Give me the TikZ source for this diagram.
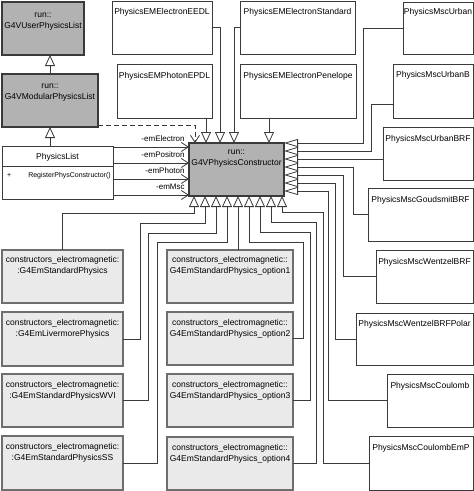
\documentclass[tikz,border=0pt]{standalone}
\usepackage{fontspec}
\setmainfont{Liberation Sans}
\usetikzlibrary{arrows.meta,calc}
\definecolor{clsdark}{RGB}{178,178,178}
\definecolor{clslight}{RGB}{234,234,234}
\definecolor{edgedark}{RGB}{58,58,58}
\definecolor{edgelight}{RGB}{110,110,110}
\tikzset{
  cls/.style={rectangle,anchor=north west,inner sep=0pt,outer sep=0pt,line width=1pt},
  darkcls/.style={cls,fill=clsdark,draw=edgedark,line width=1.4pt},
  whitecls/.style={cls,fill=white,draw=edgedark},
  lightcls/.style={cls,fill=clslight,draw=edgelight,line width=1.2pt},
  clstext/.style={anchor=north,inner sep=0pt,align=center,font=\fontsize{8.5}{10.5}\selectfont},
  rolelabel/.style={anchor=base east,inner sep=0pt,font=\fontsize{8}{9.6}\selectfont},
  link/.style={draw=edgedark,line width=0.8pt},
  inh/.style={link,-{Triangle[open,length=11pt,width=10pt]}},
  inhside/.style={link,-{Triangle[open,length=14pt,width=8pt]}},
  assoc/.style={link,-{Straight Barb[length=7pt,width=9pt]}},
  usedby/.style={assoc,dash pattern=on 5pt off 3pt},
}
\begin{document}
\begin{tikzpicture}[x=1pt,y=-1pt]
\path[use as bounding box,fill=white] (0,0) rectangle (474,491);
% base classes
\node[darkcls,minimum width=82pt,minimum height=53pt] (user) at (2,2) {};
\node[clstext] (userTxt) at ($(user.north)+(0,8)$) {\strut run::\\G4VUserPhysicsList};
\node[darkcls,minimum width=96pt,minimum height=53pt] (modular) at (2,74) {};
\node[clstext] (modularTxt) at ($(modular.north)+(0,7)$) {\strut run::\\G4VModularPhysicsList};
\node[whitecls,minimum width=111pt,minimum height=53pt] (plist) at (2,146) {};
\node[clstext] (plistTxt) at ($(plist.north)+(0,6)$) {\strut PhysicsList};
\draw[edgedark,line width=1pt] ($(plist.north west)+(0,20)$) -- ($(plist.north east)+(0,20)$);
\node[anchor=base west,inner sep=0pt,font=\fontsize{7}{8.4}\selectfont] (plistOp) at ($(plist.north west)+(5,31)$) {+\hspace{17pt}RegisterPhysConstructor()};
\node[darkcls,minimum width=95pt,minimum height=53pt] (pc) at (189,143) {};
\node[clstext] (pcTxt) at ($(pc.north)+(0,4)$) {\strut run::\\G4VPhysicsConstructor};
% attachment points on the constructor
\coordinate (pcT0) at ($(pc.north west)+(6,0)$);
\coordinate (pcT1) at ($(pc.north west)+(17,0)$);
\coordinate (pcT2) at ($(pc.north west)+(31,0)$);
\coordinate (pcT3) at ($(pc.north west)+(45,0)$);
\coordinate (pcT4) at ($(pc.north west)+(80,0)$);
\coordinate (pcL1) at ($(pc.north west)+(0,4)$);
\coordinate (pcL2) at ($(pc.north west)+(0,20)$);
\coordinate (pcL3) at ($(pc.north west)+(0,36)$);
\coordinate (pcL4) at ($(pc.north west)+(0,52)$);
\coordinate (pcR1) at ($(pc.north east)+(0,0)$);
\coordinate (pcR2) at ($(pc.north east)+(0,8)$);
\coordinate (pcR3) at ($(pc.north east)+(0,16)$);
\coordinate (pcR4) at ($(pc.north east)+(0,24)$);
\coordinate (pcR5) at ($(pc.north east)+(0,32)$);
\coordinate (pcR6) at ($(pc.north east)+(0,40)$);
\coordinate (pcR7) at ($(pc.north east)+(0,48)$);
\coordinate (pcB1) at ($(pc.south west)+(5,0)$);
\coordinate (pcB2) at ($(pc.south west)+(16,0)$);
\coordinate (pcB3) at ($(pc.south west)+(27,0)$);
\coordinate (pcB4) at ($(pc.south west)+(38,0)$);
\coordinate (pcB5) at ($(pc.south west)+(49,0)$);
\coordinate (pcB6) at ($(pc.south west)+(60,0)$);
\coordinate (pcB7) at ($(pc.south west)+(71,0)$);
\coordinate (pcB8) at ($(pc.south west)+(82,0)$);
\coordinate (pcB9) at ($(pc.south west)+(93,0)$);
% EM constructors on top
\node[whitecls,minimum width=100pt,minimum height=53pt] (eedl) at (112,1) {};
\node[clstext] (eedlTxt) at ($(eedl.north)+(0,6)$) {\strut PhysicsEMElectronEEDL};
\node[whitecls,minimum width=115pt,minimum height=53pt] (estd) at (240,1) {};
\node[clstext] (estdTxt) at ($(estd.north)+(0,6)$) {\strut PhysicsEMElectronStandard};
\node[whitecls,minimum width=95pt,minimum height=54pt] (epdl) at (117,64) {};
\node[clstext] (epdlTxt) at ($(epdl.north)+(0,7)$) {\strut PhysicsEMPhotonEPDL};
\node[whitecls,minimum width=116pt,minimum height=54pt] (epen) at (240,64) {};
\node[clstext] (epenTxt) at ($(epen.north)+(0,7)$) {\strut PhysicsEMElectronPenelope};
% Msc constructors on the right
\node[whitecls,minimum width=70pt,minimum height=52pt] (urban) at (403,2) {};
\node[clstext] (urbanTxt) at ($(urban.north)+(0,5)$) {\strut PhysicsMscUrban};
\node[whitecls,minimum width=80pt,minimum height=54pt] (urbanb) at (393,64) {};
\node[clstext] (urbanbTxt) at ($(urbanb.north)+(0,6)$) {\strut PhysicsMscUrbanB};
\node[whitecls,minimum width=90pt,minimum height=53pt] (urbanbrf) at (383,127) {};
\node[clstext] (urbanbrfTxt) at ($(urbanbrf.north)+(0,7)$) {\strut PhysicsMscUrbanBRF};
\node[whitecls,minimum width=105pt,minimum height=53pt] (gouds) at (368,188) {};
\node[clstext] (goudsTxt) at ($(gouds.north)+(0,7)$) {\strut PhysicsMscGoudsmitBRF};
\node[whitecls,minimum width=97pt,minimum height=53pt] (wentzel) at (376,250) {};
\node[clstext] (wentzelTxt) at ($(wentzel.north)+(0,7)$) {\strut PhysicsMscWentzelBRF};
\node[whitecls,minimum width=117pt,minimum height=52pt] (polar) at (356,313) {};
\node[clstext] (polarTxt) at ($(polar.north)+(0,6)$) {\strut PhysicsMscWentzelBRFPolar};
\node[whitecls,minimum width=86pt,minimum height=53pt] (coulomb) at (387,374) {};
\node[clstext] (coulombTxt) at ($(coulomb.north)+(0,7)$) {\strut PhysicsMscCoulomb};
\node[whitecls,minimum width=104pt,minimum height=54pt] (coulombemp) at (369,436) {};
\node[clstext] (coulombempTxt) at ($(coulombemp.north)+(0,7)$) {\strut PhysicsMscCoulombEmP};
% G4Em physics below
\node[lightcls,minimum width=121pt,minimum height=53pt] (stdphys) at (2,250) {};
\node[clstext] (stdphysTxt) at ($(stdphys.north)+(0,5)$) {\strut constructors\_electromagnetic:\\:G4EmStandardPhysics};
\node[lightcls,minimum width=121pt,minimum height=54pt] (liv) at (2,312) {};
\node[clstext] (livTxt) at ($(liv.north)+(0,6)$) {\strut constructors\_electromagnetic:\\:G4EmLivermorePhysics};
\node[lightcls,minimum width=121pt,minimum height=53pt] (wvi) at (2,374) {};
\node[clstext] (wviTxt) at ($(wvi.north)+(0,6)$) {\strut constructors\_electromagnetic:\\:G4EmStandardPhysicsWVI};
\node[lightcls,minimum width=121pt,minimum height=54pt] (ss) at (2,436) {};
\node[clstext] (ssTxt) at ($(ss.north)+(0,6)$) {\strut constructors\_electromagnetic:\\:G4EmStandardPhysicsSS};
\node[lightcls,minimum width=126pt,minimum height=53pt] (opt1) at (167,250) {};
\node[clstext] (opt1Txt) at ($(opt1.north)+(0,5)$) {\strut constructors\_electromagnetic::\\G4EmStandardPhysics\_option1};
\node[lightcls,minimum width=126pt,minimum height=53pt] (opt2) at (167,312) {};
\node[clstext] (opt2Txt) at ($(opt2.north)+(0,6)$) {\strut constructors\_electromagnetic::\\G4EmStandardPhysics\_option2};
\node[lightcls,minimum width=126pt,minimum height=53pt] (opt3) at (167,374) {};
\node[clstext] (opt3Txt) at ($(opt3.north)+(0,6)$) {\strut constructors\_electromagnetic::\\G4EmStandardPhysics\_option3};
\node[lightcls,minimum width=126pt,minimum height=53pt] (opt4) at (167,437) {};
\node[clstext] (opt4Txt) at ($(opt4.north)+(0,6)$) {\strut constructors\_electromagnetic::\\G4EmStandardPhysics\_option4};
% generalisation of the lists
\draw[inh] (modular.north) -- (modular.north |- user.south);
\draw[inh] (plist.north -| modular.north) -- (modular.south);
\draw[usedby] ($(modular.south east)+(0,-2)$) -| (pcT0);
% roles of the list
\draw[assoc] (plist.east |- pcL1) -- (pcL1) node[rolelabel,pos=1,xshift=-4pt,yshift=5.5pt] (roleElectron) {-emElectron};
\draw[assoc] (plist.east |- pcL2) -- (pcL2) node[rolelabel,pos=1,xshift=-4pt,yshift=5.5pt] (rolePositron) {-emPositron};
\draw[assoc] (plist.east |- pcL3) -- (pcL3) node[rolelabel,pos=1,xshift=-4pt,yshift=5.5pt] (rolePhoton) {-emPhoton};
\draw[assoc] (plist.east |- pcL4) -- (pcL4) node[rolelabel,pos=1,xshift=-4pt,yshift=5.5pt] (roleMsc) {-emMsc};
% top row
\draw[inh] (epdl.south -| pcT1) -- (pcT1);
\draw[inh] (eedl.east) -| (pcT2);
\draw[inh] (estd.west) -| (pcT3);
\draw[inh] (epen.south -| pcT4) -- (pcT4);
% right column
\draw[inhside] (urban.west) -| ($(pcR1)+(79,0)$) -- (pcR1);
\draw[inhside] ([yshift=-13pt]urbanb.west) -| ($(pcR2)+(87,0)$) -- (pcR2);
\draw[inhside] (urbanbrf.west |- pcR3) -- (pcR3);
\draw[inhside] (gouds.west) -| ($(pcR4)+(69,0)$) -- (pcR4);
\draw[inhside] (wentzel.west) -| ($(pcR5)+(59,0)$) -- (pcR5);
\draw[inhside] (polar.west) -| ($(pcR6)+(51,0)$) -- (pcR6);
\draw[inhside] (coulomb.west) -| ($(pcR7)+(44,0)$) -- (pcR7);
% bottom rows
\draw[inh] (stdphys.north) |- ($(pcB1)+(0,17)$) -- (pcB1);
\draw[inh] (liv.east) -| ($(pcB2)+(-65,27)$) -| (pcB2);
\draw[inh] (wvi.east) -| ($(pcB3)+(-68,37)$) -| (pcB3);
\draw[inh] (ss.east) -| ($(pcB4)+(-70,46)$) -| (pcB4);
\draw[inh] (opt1.north -| pcB5) -- (pcB5);
\draw[inh] (opt2.east) -| ($(pcB6)+(54,46)$) -| (pcB6);
\draw[inh] (opt3.east) -| ($(pcB7)+(50,36)$) -| (pcB7);
\draw[inh] (opt4.east) -| ($(pcB8)+(45,26)$) -| (pcB8);
\draw[inh] (coulombemp.west) -| ($(pcB9)+(41,16)$) -| (pcB9);
\end{tikzpicture}
\end{document}
